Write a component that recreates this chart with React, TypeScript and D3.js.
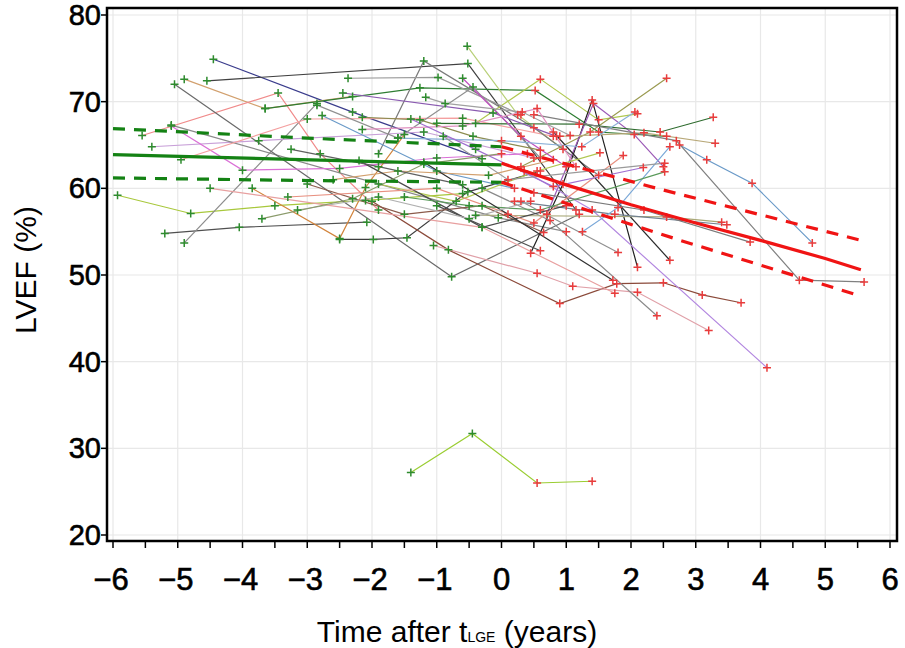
import React from 'react';
import * as d3 from 'd3';

type Pt = [number, number];

const xTicks = [-6, -5, -4, -3, -2, -1, 0, 1, 2, 3, 4, 5, 6];
const yTicks = [20, 30, 40, 50, 60, 70, 80];

// individual patient trajectories: [time after tLGE (years), LVEF (%)]
const trajectories: Pt[][] = [
  [[-5.93, 59.2], [-4.8, 57.1], [-3.5, 58.0], [-2.1, 58.6], [-0.6, 59.4]],
  [[-5.2, 54.8], [-4.05, 55.5], [-2.08, 56.1]],
  [[-4.9, 53.7], [-2.85, 69.8]],
  [[-4.45, 74.9], [-2.3, 68.8], [-0.3, 63.4]],
  [[-4.55, 72.4], [-0.52, 74.4], [1.15, 57.5]],
  [[-4.9, 72.6], [-3.65, 69.2], [-2.3, 70.6]],
  [[-5.55, 66.1], [-3.45, 71.0], [-2.8, 64.0], [-1.9, 57.5]],
  [[-5.4, 64.8], [-3.75, 65.5], [-1.2, 66.5], [0.5, 63.5]],
  [[-5.1, 67.3], [-0.05, 56.6], [1.0, 55.0]],
  [[-5.05, 72.0], [-0.77, 49.8], [1.2, 57.0]],
  [[-5.1, 67.2], [-4.0, 62.1], [-2.5, 62.3], [-1.0, 63.5], [0.4, 64.0]],
  [[-4.95, 63.3], [-3.0, 68.0], [-0.6, 68.1], [0.8, 66.0]],
  [[-3.85, 60.0], [-2.5, 54.2], [-2.1, 60.1], [-1.5, 66.2]],
  [[-2.5, 54.1], [-1.98, 54.1], [-1.46, 54.3], [-0.52, 59.6], [0.6, 62.0]],
  [[-2.0, 58.5], [-0.82, 52.9], [0.9, 46.7], [1.78, 49.0], [2.5, 49.1], [3.1, 47.7], [3.7, 46.8]],
  [[-1.05, 53.4], [0.55, 50.2], [1.1, 48.7], [2.1, 48.0], [3.2, 43.6]],
  [[-1.4, 27.2], [-0.45, 31.7], [0.55, 26.0], [1.4, 26.2]],
  [[-3.65, 69.2], [-1.26, 71.6], [0.52, 71.3], [1.5, 66.5], [2.55, 66.0]],
  [[-0.53, 76.4], [0.25, 68.5], [0.95, 64.5]],
  [[-1.9, 64.0], [-1.2, 74.7], [0.5, 67.0], [1.5, 61.5]],
  [[-0.4, 67.5], [0.6, 72.6], [1.5, 67.9], [2.1, 68.6]],
  [[0.3, 62.5], [1.37, 66.5], [2.55, 72.7]],
  [[0.45, 52.5], [0.95, 60.5], [1.4, 70.2], [2.1, 50.9]],
  [[0.7, 57.0], [1.42, 69.8], [2.05, 66.2], [2.5, 62.5]],
  [[-1.0, 67.5], [1.2, 67.4], [2.45, 66.5], [3.27, 68.2]],
  [[0.9, 66.0], [2.2, 66.4], [3.3, 65.2]],
  [[2.75, 65.0], [3.17, 63.3], [3.87, 60.6], [4.8, 53.7]],
  [[0.5, 68.5], [2.7, 65.5], [4.6, 49.4], [5.6, 49.2]],
  [[0.35, 62.0], [1.4, 57.5], [4.1, 39.3]],
  [[-0.3, 60.0], [0.75, 56.3], [2.4, 45.3]],
  [[-1.0, 58.0], [0.6, 52.8]],
  [[0.3, 58.5], [1.8, 52.6]],
  [[0.8, 66.5], [2.6, 51.7]],
  [[-0.4, 56.9], [2.55, 56.7], [3.4, 56.1]],
  [[0.2, 58.5], [1.75, 57.0], [3.48, 55.8]],
  [[0.5, 59.5], [2.2, 57.5], [3.84, 53.8]],
  [[1.25, 55.0], [1.8, 57.8], [2.6, 64.8]],
  [[-2.37, 72.7], [-0.98, 72.8], [0.3, 68.5]],
  [[-2.45, 71.0], [-0.13, 68.7], [0.85, 66.0]],
  [[-2.85, 69.6], [-1.6, 65.8], [-0.44, 71.7], [0.6, 63.5]],
  [[-0.6, 72.7], [0.3, 66.0], [1.0, 62.5]],
  [[-2.77, 68.4], [-1.0, 62.0], [0.2, 60.0]],
  [[-2.15, 68.2], [-1.26, 67.9], [-0.44, 66.0], [0.6, 64.4]],
  [[-2.15, 66.8], [-0.6, 67.2], [0.55, 69.2], [1.15, 62.5]],
  [[-1.17, 70.5], [-0.87, 69.8], [0.32, 68.8], [1.06, 66.1]],
  [[-1.6, 65.8], [0.0, 65.5], [1.24, 64.8], [2.06, 68.8]],
  [[-2.6, 61.0], [-1.6, 62.0], [-0.2, 61.5], [0.8, 63.3]],
  [[-1.9, 60.5], [-0.7, 58.5], [0.55, 62.0], [1.52, 64.1]],
  [[-3.0, 60.5], [-1.5, 57.0], [-0.3, 58.0], [0.65, 54.9]],
  [[-2.2, 63.2], [-0.3, 55.5], [1.0, 58.0]],
  [[-3.3, 59.0], [-1.0, 60.0], [0.5, 56.0], [1.88, 63.8]],
  [[-1.4, 68.0], [-0.4, 64.5], [0.8, 60.2], [2.19, 62.4]],
  [[-1.5, 59.0], [-0.5, 58.0], [0.6, 57.5], [2.52, 61.9]],
  [[-0.9, 66.0], [0.1, 61.0], [2.52, 62.9]],
  [[-1.2, 63.0], [0.1, 57.0], [1.72, 49.4]],
  [[-3.15, 57.5], [-1.9, 59.0], [-0.5, 56.5], [0.45, 58.5]],
  [[-4.5, 60.0], [-0.3, 55.5], [1.75, 47.9]],
  [[-3.7, 56.5], [-2.3, 58.8], [-1.2, 62.8], [0.0, 64.0]],
  [[-3.25, 64.5], [-1.9, 62.5], [-0.6, 60.4]],
];

const lineColors = [
  '#a8c83c', '#505050', '#8c8c8c', '#3a3c8c', '#404040', '#d2a06e', '#f08a8a', '#c8a0d8',
  '#8a8a8a', '#6a6a6a', '#da70d6', '#f4a0a0', '#d2843c', '#3c3c3c', '#8b4a3a', '#e0a0a8',
  '#9acd32', '#2e7d32', '#b8d078', '#7a7a7a', '#b0c850', '#9a9a50', '#202020', '#9b59b6',
  '#2e6b2e', '#b8a878', '#6a9ac8', '#808080', '#b388e0', '#8a8a8a', '#505050', '#909090',
  '#2a2a2a', '#a8a878', '#708090', '#7a7a7a', '#7aa8d8', '#9a9a9a', '#8a5ab0', '#909090',
  '#c050c0', '#6a9ac8', '#8c8c50', '#e090c0', '#a0a0a0', '#8ab0d8', '#d2a06e', '#b0c850',
  '#8b5a4a', '#4a4a4a', '#e89080', '#a070d0', '#5a9a5a', '#9a9a9a', '#303030', '#b0b0b0',
  '#e8a0a0', '#8a9a6a', '#606060',
];

// mixed-model fits
const greenFit: Pt[] = [[-6, 63.9], [0, 62.7]];
const greenUpper: Pt[] = [[-6, 66.9], [-3, 65.8], [0, 64.8]];
const greenLower: Pt[] = [[-6, 61.2], [-3, 60.9], [0, 60.7]];
const redFit: Pt[] = [[0, 62.9], [1, 60.4], [2, 58.1], [3, 56.0], [4, 54.0], [5, 51.9], [5.55, 50.6]];
const redUpper: Pt[] = [[0, 64.8], [2.5, 59.8], [5.55, 54.0]];
const redLower: Pt[] = [[0, 60.7], [2.76, 54.0], [5.45, 47.8]];

const W = 905;
const H = 648;
const frame = { left: 107, right: 897, top: 8, bottom: 541 };

export default function App() {
  const x = d3.scaleLinear().domain([-6, 6]).range([113, 890]);
  const y = d3.scaleLinear().domain([20, 80]).range([535, 15]);
  const line = d3.line<Pt>().x((d) => x(d[0])).y((d) => y(d[1]));
  const minorX = d3.range(-6, 6.01, 0.5);
  const font = '"Liberation Sans", Arial, Helvetica, sans-serif';

  return (
    <svg width={W} height={H} style={{ position: 'absolute', left: 0, top: 0, background: '#fff' }}>
      <defs>
        <clipPath id="plotclip">
          <rect x={frame.left} y={frame.top} width={frame.right - frame.left} height={frame.bottom - frame.top} />
        </clipPath>
      </defs>
      <rect x={0} y={0} width={W} height={H} fill="#fff" />
      {/* grid */}
      <g stroke="#e8e8e8" strokeWidth={1.2}>
        {xTicks.map((t) => (
          <line key={'gx' + t} x1={x(t)} x2={x(t)} y1={frame.top} y2={frame.bottom} />
        ))}
        {yTicks.map((t) => (
          <line key={'gy' + t} x1={frame.left} x2={frame.right} y1={y(t)} y2={y(t)} />
        ))}
      </g>
      <g clipPath="url(#plotclip)">
        {trajectories.map((tr, i) => (
          <path key={'l' + i} d={line(tr) || ''} fill="none" stroke={lineColors[i % lineColors.length]} strokeWidth={1.2} />
        ))}
        {trajectories.map((tr, i) =>
          tr.map((p, j) => (
            <path
              key={'m' + i + '_' + j}
              d={`M${x(p[0]) - 4},${y(p[1])}H${x(p[0]) + 4}M${x(p[0])},${y(p[1]) - 4}V${y(p[1]) + 4}`}
              stroke={p[0] < 0 ? '#2e8b2e' : '#e83c3c'}
              strokeWidth={1.5}
            />
          ))
        )}
        <path d={line(greenFit) || ''} fill="none" stroke="#148214" strokeWidth={3.2} />
        <path d={line(greenUpper) || ''} fill="none" stroke="#148214" strokeWidth={3.2} strokeDasharray="12,9" />
        <path d={line(greenLower) || ''} fill="none" stroke="#148214" strokeWidth={3.2} strokeDasharray="12,9" />
        <path d={line(redFit) || ''} fill="none" stroke="#f01414" strokeWidth={3.2} />
        <path d={line(redUpper) || ''} fill="none" stroke="#f01414" strokeWidth={3.2} strokeDasharray="12,9" />
        <path d={line(redLower) || ''} fill="none" stroke="#f01414" strokeWidth={3.2} strokeDasharray="12,9" />
      </g>
      {/* frame */}
      <rect
        x={frame.left}
        y={frame.top}
        width={frame.right - frame.left}
        height={frame.bottom - frame.top}
        fill="none"
        stroke="#000"
        strokeWidth={2.5}
      />
      {/* ticks */}
      <g stroke="#000" strokeWidth={1.5}>
        {minorX.map((t) => (
          <line key={'tx' + t} x1={x(t)} x2={x(t)} y1={frame.bottom} y2={frame.bottom + 7} />
        ))}
        {yTicks.map((t) => (
          <line key={'ty' + t} x1={frame.left - 6} x2={frame.left} y1={y(t)} y2={y(t)} />
        ))}
      </g>
      <g fontFamily={font} fontSize={31} fill="#000" stroke="#000" strokeWidth={0.6}>
        {xTicks.map((t) => (
          <text key={'lx' + t} x={x(t) + (t < 0 ? -2 : 0)} y={590} textAnchor="middle">
            {t < 0 ? '\u2212' + Math.abs(t) : String(t)}
          </text>
        ))}
      </g>
      <g fontFamily={font} fontSize={29} fill="#000" stroke="#000" strokeWidth={0.6}>
        {yTicks.map((t) => (
          <text key={'ly' + t} x={101} y={y(t) + 10} textAnchor="end">
            {t}
          </text>
        ))}
      </g>
      <text x={457} y={642} textAnchor="middle" fontFamily={font} fontSize={30} fill="#000">
        Time after t
        <tspan fontSize={14}>LGE</tspan>
        {' (years)'}
      </text>
      <text
        transform={`translate(36,270) rotate(-90)`}
        textAnchor="middle"
        fontFamily={font}
        fontSize={30}
        fill="#000"
      >
        LVEF (%)
      </text>
    </svg>
  );
}
